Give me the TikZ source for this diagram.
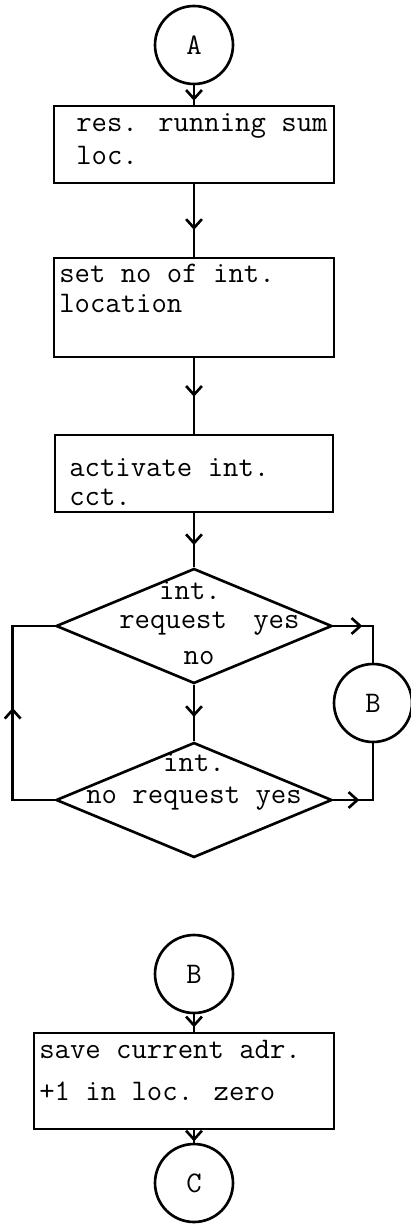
\documentclass[tikz,border=0pt]{standalone}
\usepackage{tikz}
\usetikzlibrary{shapes.geometric}
\usetikzlibrary{arrows.meta,decorations.markings}

\begin{document}
\begin{tikzpicture}[x=0.02cm,y=-0.02cm,line width=1.5pt,
  every node/.style={font=\fontsize{17}{20}\selectfont\ttfamily},
  conn/.style={circle,draw,minimum size=1.56cm,inner sep=0pt},
  box/.style={rectangle,draw,inner sep=0pt},
  test/.style={diamond,draw,minimum width=5.52cm,minimum height=2.3cm,inner sep=0pt},
  txt/.style={anchor=base west,inner sep=0pt},
  ctxt/.style={anchor=base,inner sep=0pt},
  flow/.style={decoration={markings,mark=at position #1 with {\arrow{Straight Barb[length=5pt,width=9pt]}}},postaction={decorate}}]
\useasboundingbox (0,0) rectangle (410,1226);

% main loop
\node [conn] (A) at (194,45) {A};
\node [box,minimum width=5.6cm,minimum height=1.54cm] (res) at (194,144.5) {};
\node [box,minimum width=5.6cm,minimum height=1.98cm] (nint) at (194,307.5) {};
\node [box,minimum width=5.56cm,minimum height=1.54cm] (act) at (194,473.5) {};
\node [test] (ask) at (194,626) {};
\node [test] (ask2) at (194,800) {};
\node [conn] (B) at (373,703) {B};

\node [txt] (res1) at (75,132) {res. running sum};
\node [txt] (res2) at (75,165) {loc.};
\node [txt] (nint1) at (58,283) {set no of int.};
\node [txt] (nint2) at (58,313) {location};
\node [txt] (act1) at (68,476) {activate int.};
\node [txt] (act2) at (68,505) {cct.};
\node [ctxt] (ask1) at (190,599) {int.};
\node [txt] (askq) at (118,628) {request};
\node [txt] (askyes) at (252,628) {yes};
\node [ctxt] (askno) at (199,664) {no};
\node [ctxt] (ask21) at (194,771) {int.};
\node [txt] (ask2q) at (85,803) {no request yes};

\draw[flow=0.8] (A) -- (res);
\draw[flow=0.63] (res) -- (nint);
\draw[flow=0.51] (nint) -- (act);
\draw[flow=0.59] (act) -- (ask);
\draw[flow=0.57] (ask) -- (ask2);
\draw[flow=0.52] (ask2.west) -- ++(-42,0) |- (ask.west);
\draw[flow=0.38] (ask.east) -| (B);
\draw[flow=0.27] (ask2.east) -| (B);

% entry B
\node [conn] (B2) at (194,974) {B};
\node [box,minimum width=6cm,minimum height=1.92cm] (save) at (184,1081) {};
\node [conn] (C) at (194,1183) {C};

\node [txt] (save1) at (38,1058) {save current adr.};
\node [txt] (save2) at (38,1100) {+1 in loc. zero};

\draw[flow=0.75] (B2) -- (B2 |- save.north);
\draw[flow=0.9] (C |- save.south) -- (C);
\end{tikzpicture}
\end{document}
